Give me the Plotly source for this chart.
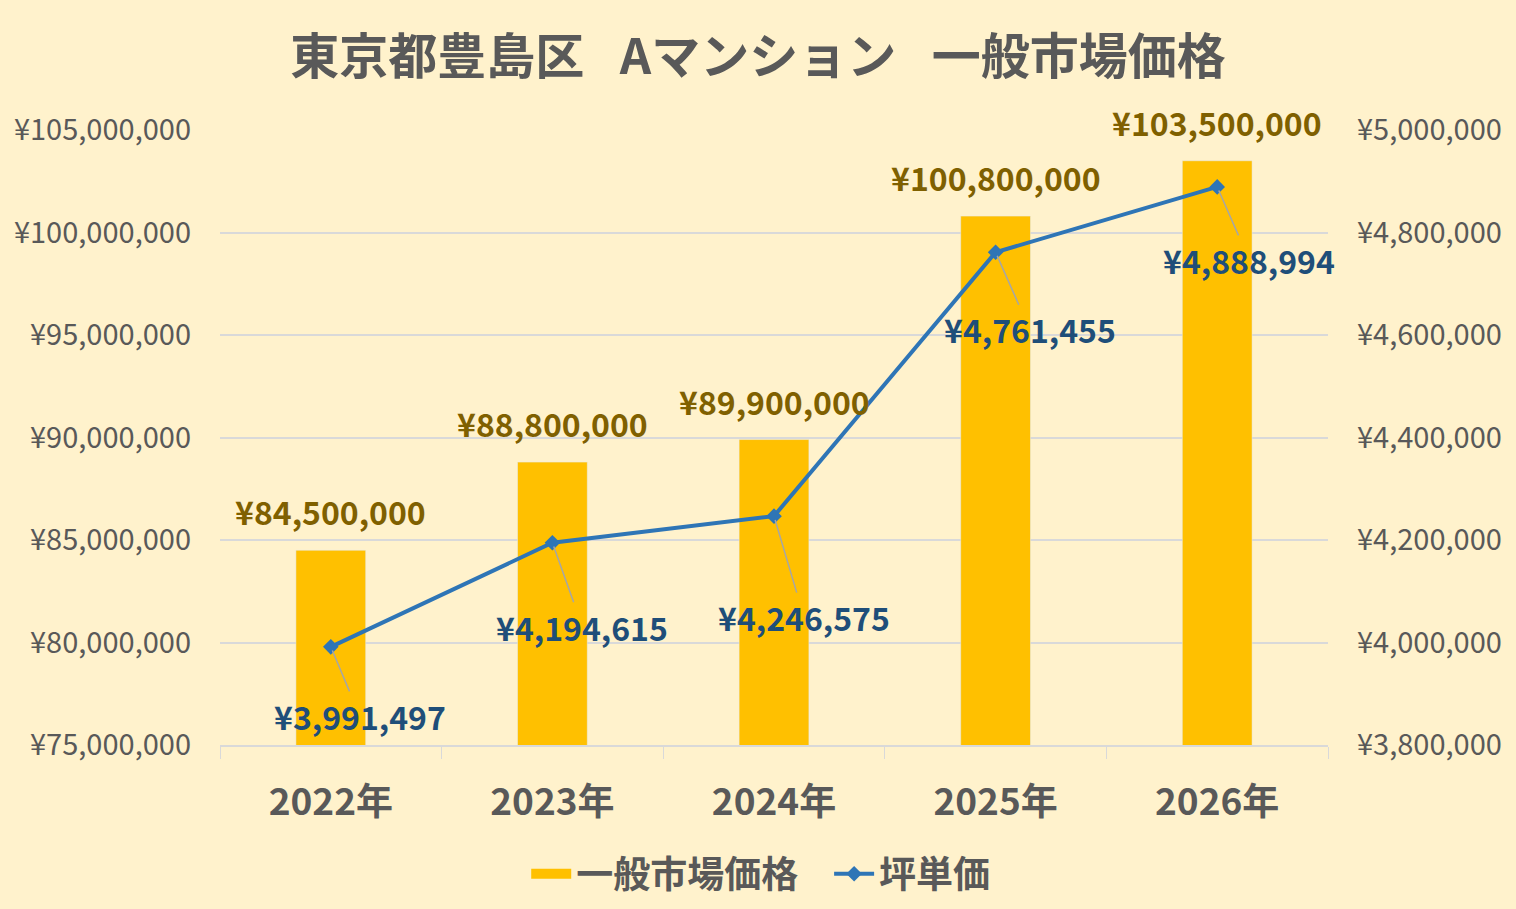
import plotly.graph_objects as go

# Data
years = ['2022年', '2023年', '2024年', '2025年', '2026年']
market_price = [84500000, 88800000, 89900000, 100800000, 103500000]
tsubo_price = [3991497, 4194615, 4246575, 4761455, 4888994]

left_ticks = [75000000, 80000000, 85000000, 90000000, 95000000, 100000000, 105000000]
right_ticks = [3800000, 4000000, 4200000, 4400000, 4600000, 4800000, 5000000]

# label offsets for the line labels (px)
label_dx = [29, 30, 30, 34, 32]
label_dy = [69, 84, 101, 77, 73]

FONT = 'Noto Sans CJK JP'
GRAY = '#595959'
BG = '#FFF2CC'
GOLD = '#FFC000'
BLUE = '#2E75B6'

bars = go.Bar(x=years, y=market_price, name='一般市場価格', showlegend=False,
              marker=dict(color=GOLD), width=0.315)

# legend entry for the bars (wide flat swatch)
bar_key = go.Scatter(x=[None], y=[None], name='一般市場価格\u2002\u2009', mode='lines',
                     line=dict(color=GOLD, width=16))

line = go.Scatter(x=years, y=tsubo_price, name='坪単価', yaxis='y2',
                  mode='lines+markers',
                  line=dict(color=BLUE, width=4),
                  marker=dict(symbol='diamond', size=12, color=BLUE))

annotations = []
for x, v in zip(years, market_price):
    annotations.append(dict(x=x, y=v, xref='x', yref='y', text='¥{:,}'.format(v),
                            showarrow=False, yanchor='bottom', yshift=14,
                            font=dict(family=FONT, size=32, color='#7F6000', weight='bold')))
for x, v, dx, dy in zip(years, tsubo_price, label_dx, label_dy):
    annotations.append(dict(x=x, y=v, xref='x', yref='y2', text='¥{:,}'.format(v),
                            showarrow=True, arrowhead=0, arrowwidth=1.5, arrowcolor='#A6A6A6',
                            ax=dx, ay=dy, standoff=4,
                            font=dict(family=FONT, size=32, color='#1F4E79', weight='bold')))

layout = dict(
    width=1516, height=909,
    paper_bgcolor=BG, plot_bgcolor=BG,
    margin=dict(l=220, r=188, t=130, b=164, autoexpand=False),
    title=dict(text='東京都豊島区\u2002 Aマンション\u2002 一般市場価格', x=0.5, xanchor='center',
               y=0.937, yanchor='middle',
               font=dict(family=FONT, size=49, color=GRAY, weight='bold')),
    xaxis=dict(range=[-0.5, len(years) - 0.5], showgrid=False, showline=True,
               linecolor='#D9D9D9', linewidth=1.5,
               ticks='outside', tickson='boundaries', ticklen=12, tickcolor='#D9D9D9',
               ticklabelstandoff=24,
               tickfont=dict(family=FONT, size=37, color=GRAY, weight='bold')),
    yaxis=dict(range=[75000000, 105000000], tickvals=left_ticks,
               ticktext=['¥{:,}'.format(t) for t in left_ticks],
               showgrid=True, gridcolor='#D9D9D9', gridwidth=1.5, zeroline=False,
               ticklabelstandoff=28,
               tickfont=dict(family=FONT, size=29, color=GRAY)),
    yaxis2=dict(range=[3800000, 5000000], tickvals=right_ticks,
                ticktext=['¥{:,}'.format(t) for t in right_ticks],
                overlaying='y', side='right', showgrid=False, zeroline=False,
                ticklabelstandoff=28,
                tickfont=dict(family=FONT, size=29, color=GRAY)),
    legend=dict(orientation='h', x=0.488, xanchor='center', y=-0.21, yanchor='middle',
                font=dict(family=FONT, size=37, color=GRAY, weight='bold'),
                itemwidth=40, bgcolor='rgba(0,0,0,0)'),
    annotations=annotations,
    showlegend=True,
)

fig = go.Figure(data=[bars, bar_key, line], layout=layout)
fig.write_html('out.html', config={'displayModeBar': False},
               post_script="document.body.style.margin='0';document.body.style.background='#FFF2CC';")
